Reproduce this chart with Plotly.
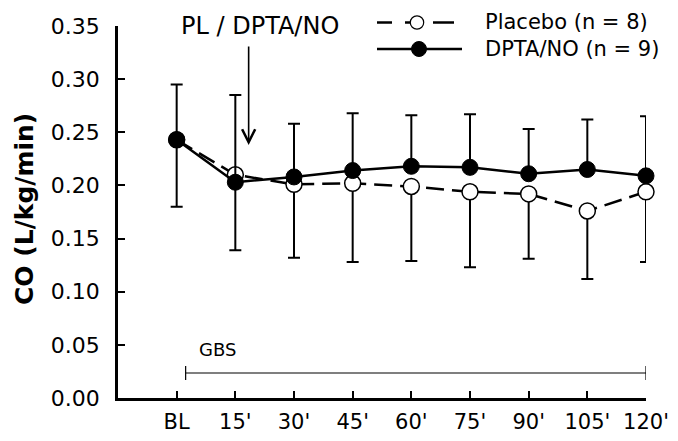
import plotly.graph_objects as go

# ---- data ----
time_labels = ["BL", "15'", "30'", "45'", "60'", "75'", "90'", "105'", "120'"]
placebo_mean = [0.243, 0.210, 0.201, 0.202, 0.199, 0.194, 0.192, 0.176, 0.194]
placebo_sd = [0.063, 0.071, 0.069, 0.074, 0.070, 0.071, 0.061, 0.064, 0.066]
dpta_mean = [0.243, 0.203, 0.208, 0.214, 0.218, 0.217, 0.211, 0.215, 0.209]
dpta_sd = [0.052, 0.082, 0.050, 0.054, 0.048, 0.050, 0.042, 0.047, 0.056]
y_ticks = [0.00, 0.05, 0.10, 0.15, 0.20, 0.25, 0.30, 0.35]
gbs_start, gbs_end, gbs_level = 0.153, 8, 0.0235
arrow_x, arrow_y = 1.227, 0.238

x = list(range(len(time_labels)))

# The page body has an 8px margin, so the figure is 16px smaller than the window.
OFF = 8
W, H = 678 - 2 * OFF, 441 - 2 * OFF
L, T = 118 - OFF, 26 - OFF
R = W - (646 - OFF)
B = H - (398 - OFF)
PW, PH = W - L - R, H - T - B


def px(xp):  # window pixel -> paper x
    return (xp - OFF - L) / PW


def py(yp):  # window pixel -> paper y
    return (H - B - (yp - OFF)) / PH


FONT = "DejaVu Sans"

fig = go.Figure()

fig.add_trace(go.Scatter(
    x=x, y=placebo_mean, mode="lines+markers", name="Placebo (n = 8)",
    line=dict(color="black", width=2.5, dash="18px,8px"),
    marker=dict(symbol="circle", size=16, color="white",
                line=dict(color="black", width=1.5)),
    error_y=dict(type="data", symmetric=False, array=[0] * len(x),
                 arrayminus=placebo_sd, color="black", thickness=2, width=6),
    cliponaxis=False, showlegend=False,
))
fig.add_trace(go.Scatter(
    x=x, y=dpta_mean, mode="lines+markers", name="DPTA/NO (n = 9)",
    line=dict(color="black", width=2.5),
    marker=dict(symbol="circle", size=16, color="black",
                line=dict(color="black", width=1)),
    error_y=dict(type="data", symmetric=False, array=dpta_sd,
                 arrayminus=[0] * len(x), color="black", thickness=2, width=6),
    cliponaxis=False, showlegend=False,
))

shapes = []
# GBS bar
shapes.append(dict(type="line", xref="x", yref="y", x0=gbs_start, x1=gbs_end,
                   y0=gbs_level, y1=gbs_level, line=dict(color="black", width=1.2)))
for xx in (gbs_start, gbs_end):
    shapes.append(dict(type="line", xref="x", yref="y", x0=xx, x1=xx,
                       y0=gbs_level - 0.0066, y1=gbs_level + 0.0066,
                       line=dict(color="black", width=1.2)))

# custom legend
row1, row2 = 22.5, 49
for a, b in [(377, 392), (405, 411), (433, 454)]:
    shapes.append(dict(type="line", xref="paper", yref="paper", x0=px(a), x1=px(b),
                       y0=py(row1), y1=py(row1), line=dict(color="black", width=2.5)))
shapes.append(dict(type="circle", xref="paper", yref="paper", xsizemode="pixel",
                   ysizemode="pixel", xanchor=px(417), yanchor=py(row1),
                   x0=-6.7, x1=6.7, y0=-6.7, y1=6.7, fillcolor="white",
                   line=dict(color="black", width=1.2)))
shapes.append(dict(type="line", xref="paper", yref="paper", x0=px(377), x1=px(462),
                   y0=py(row2), y1=py(row2), line=dict(color="black", width=2.5)))
shapes.append(dict(type="circle", xref="paper", yref="paper", xsizemode="pixel",
                   ysizemode="pixel", xanchor=px(419), yanchor=py(row2),
                   x0=-7.5, x1=7.5, y0=-7.5, y1=7.5, fillcolor="black",
                   line=dict(color="black", width=1)))

annotations = [
    dict(text="Placebo (n = 8)", xref="paper", yref="paper", x=px(483), y=py(row1),
         xanchor="left", yanchor="middle", showarrow=False,
         font=dict(family=FONT, size=21, color="black")),
    dict(text="DPTA/NO (n = 9)", xref="paper", yref="paper", x=px(483), y=py(row2),
         xanchor="left", yanchor="middle", showarrow=False,
         font=dict(family=FONT, size=21, color="black")),
    dict(text="PL / DPTA/NO", xref="paper", yref="paper", x=px(260), y=py(26),
         xanchor="center", yanchor="middle", showarrow=False,
         font=dict(family=FONT, size=24, color="black")),
    dict(text="", x=arrow_x, y=arrow_y, xref="x", yref="y", ax=0, ay=-100,
         showarrow=True, arrowhead=5, arrowsize=1.6, arrowwidth=1.6,
         arrowcolor="black"),
    dict(text="GBS", x=0.69, y=0.0461, xref="x", yref="y", xanchor="center",
         yanchor="middle", showarrow=False,
         font=dict(family=FONT, size=18, color="black")),
    dict(text="<b>CO (L/kg/min)</b>", xref="paper", yref="paper", x=px(24), y=py(209),
         xanchor="center", yanchor="middle", textangle=-90, showarrow=False,
         font=dict(family=FONT, size=25, color="black")),
]

fig.update_layout(
    width=W, height=H,
    margin=dict(l=L, r=R, t=T, b=B, pad=0),
    plot_bgcolor="white", paper_bgcolor="white",
    shapes=shapes, annotations=annotations,
    showlegend=False,
)
fig.update_xaxes(
    range=[-1, 8], tickmode="array", tickvals=x, ticktext=time_labels,
    showline=True, linecolor="black", linewidth=2.5, showgrid=False, zeroline=False,
    ticks="inside", ticklen=7, tickwidth=2, tickcolor="black",
    ticklabelstandoff=3, ticklabeloverflow="allow", automargin=False,
    tickfont=dict(family=FONT, size=21, color="black"),
)
fig.update_yaxes(
    range=[0, 0.35], tickmode="array", tickvals=y_ticks,
    ticktext=[f"{v:.2f}" for v in y_ticks],
    showline=True, linecolor="black", linewidth=2.5, showgrid=False, zeroline=False,
    ticks="inside", ticklen=7, tickwidth=2, tickcolor="black",
    ticklabelstandoff=11, automargin=False,
    tickfont=dict(family=FONT, size=22, color="black"),
)

fig.write_html("out.html")
